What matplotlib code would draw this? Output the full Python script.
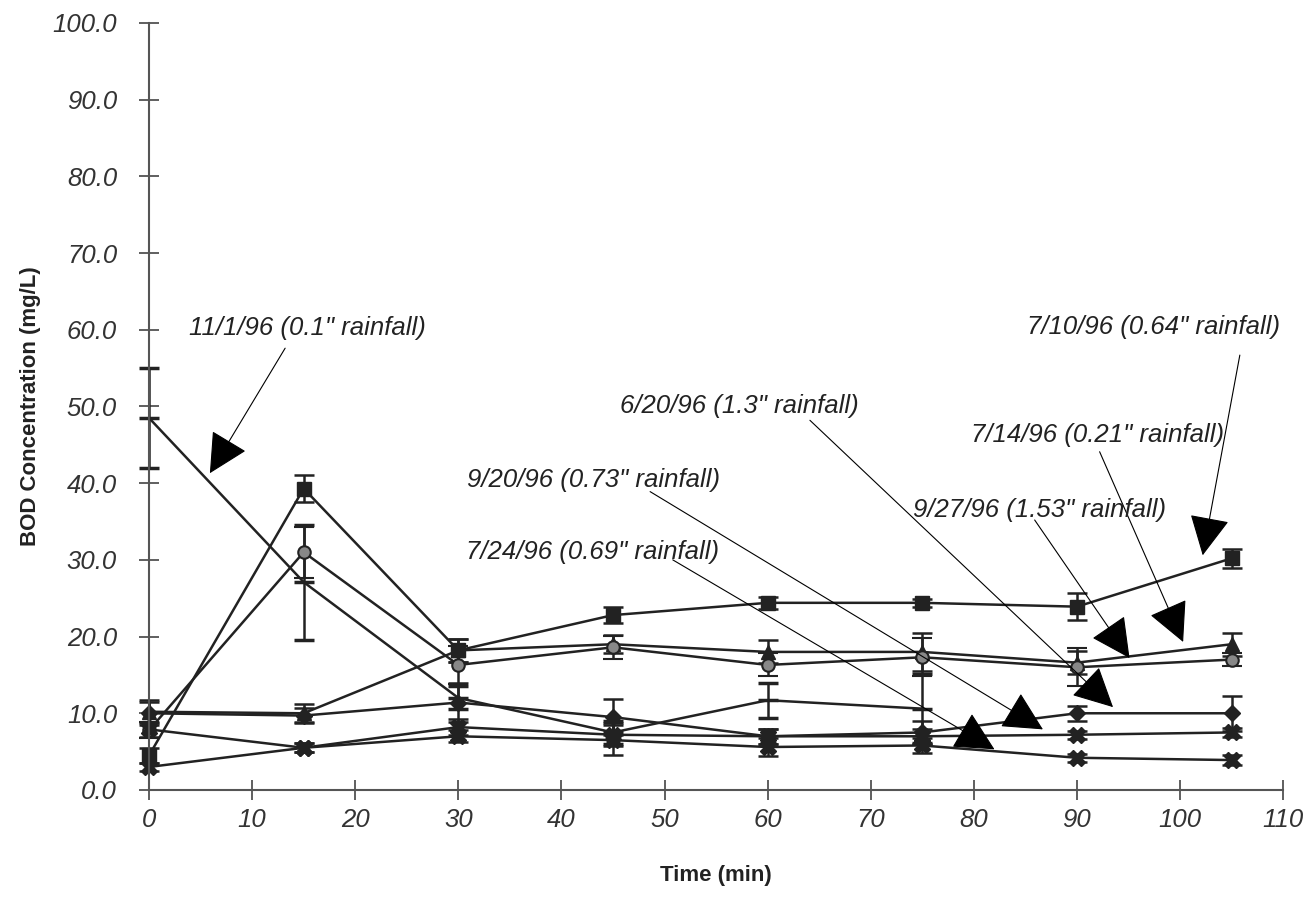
import numpy as np
import matplotlib
matplotlib.use("Agg")
import matplotlib.pyplot as plt

nan = np.nan

# sampling times (min)
time = [0, 15, 30, 45, 60, 75, 90, 105]

# BOD concentration (mg/L) per storm event
nov01 = [48.5, 27.1, 12.0, 7.5, 11.7, 10.6, nan, nan]
jul10 = [4.5, 39.3, 18.2, 22.8, 24.4, 24.4, 23.9, 30.2]
jun20 = [10.0, 9.7, 11.4, 9.5, 7.0, 7.5, 10.0, 10.0]
jul14 = [10.2, 10.0, 18.2, 19.0, 18.0, 18.0, 16.6, 19.0]
sep27 = [7.8, 31.0, 16.3, 18.6, 16.3, 17.3, 16.0, 17.0]
sep20 = [7.9, 5.5, 8.2, 7.2, 7.0, 7.0, 7.2, 7.5]
jul24 = [3.0, 5.5, 7.0, 6.5, 5.6, 5.8, 4.2, 3.9]

# error bar half widths
nov01_err = [6.5, 7.5, 1.5, 1.5, 2.3, 4.5, nan, nan]
jul10_err = [1.0, 1.8, 1.5, 1.0, 0.8, 0.5, 1.8, 1.2]
jun20_err = [1.5, 1.0, 2.5, 2.3, 1.0, 1.5, 1.0, 2.3]
jul14_err = [1.5, 1.2, 1.5, 1.2, 1.5, 2.5, 1.5, 1.5]
sep27_err = [1.0, 3.3, 2.5, 1.5, 1.5, 2.5, 2.5, 0.8]
sep20_err = [1.0, 0.6, 1.0, 1.5, 1.0, 1.0, 0.5, 0.6]
jul24_err = [0.5, 0.6, 0.8, 2.0, 1.2, 1.0, 0.5, 0.6]

labels = ['11/1/96 (0.1" rainfall)', '7/10/96 (0.64" rainfall)',
          '6/20/96 (1.3" rainfall)', '7/14/96 (0.21" rainfall)',
          '9/27/96 (1.53" rainfall)', '9/20/96 (0.73" rainfall)',
          '7/24/96 (0.69" rainfall)']

plt.rcParams['font.family'] = ['Liberation Sans', 'DejaVu Sans']

fig = plt.figure(figsize=(13.12, 8.98), dpi=100)
ax = fig.add_axes([0.1136, 0.1203, 0.8644, 0.8541])

ink = '#222222'
series = [
    (nov01, nov01_err, dict(marker='_', ms=14, mew=2.5)),
    (jul10, jul10_err, dict(marker='s', ms=10)),
    (jun20, jun20_err, dict(marker='D', ms=8)),
    (jul14, jul14_err, dict(marker='^', ms=10)),
    (sep27, sep27_err, dict(marker='o', ms=9, mfc='#888888', mew=1.5)),
    (sep20, sep20_err, dict(marker='X', ms=11)),
    (jul24, jul24_err, dict(marker='X', ms=11)),
]
for vals, err, style in series:
    kw = dict(color=ink, mfc=ink, mec=ink)
    kw.update(style)
    parts = ax.errorbar(time, vals, yerr=err, lw=1.8, elinewidth=1.8, capsize=7,
                        capthick=1.8, ecolor=ink, **kw)
    for artist in parts.get_children():
        artist.set_clip_on(False)

# label text position, arrow start, arrow tip (data units)
notes = [
    ((15.4, 60.2), (13.2, 57.6), (5.9, 41.3)),
    ((97.4, 60.4), (105.8, 56.7), (102.2, 30.6)),
    ((57.3, 50.1), (64.1, 48.2), (93.5, 10.8)),
    ((92.0, 46.3), (92.2, 44.1), (100.3, 19.3)),
    ((86.4, 36.5), (85.9, 35.2), (95.1, 17.2)),
    ((43.1, 40.4), (48.6, 38.9), (86.7, 7.9)),
    ((43.0, 31.0), (50.8, 30.0), (82.0, 5.3)),
]
for text, (tpos, start, tip) in zip(labels, notes):
    ax.text(tpos[0], tpos[1], text, fontsize=18.5, style='italic', color=ink,
            ha='center', va='center')
    ax.annotate('', xy=tip, xytext=start,
                arrowprops=dict(arrowstyle='-|>,head_length=0.75,head_width=0.38',
                                mutation_scale=34, color='black', lw=0.8,
                                shrinkA=0, shrinkB=0))

ax.set_xlim(0, 110)
ax.set_ylim(0, 100)
ax.set_xticks(np.arange(0, 111, 10))
ax.set_yticks(np.arange(0, 101, 10))
ax.set_yticklabels([f'{v:.1f}' for v in np.arange(0, 101, 10)])
for lab in ax.get_xticklabels() + ax.get_yticklabels():
    lab.set_fontstyle('italic')
ax.tick_params(direction='inout', length=14, width=1.2, labelsize=18.5,
               colors='#444444', labelcolor='#333333')
ax.tick_params(axis='y', pad=16)
ax.tick_params(axis='x', pad=6)
ax.spines['top'].set_visible(False)
ax.spines['right'].set_visible(False)
for s in ('left', 'bottom'):
    ax.spines[s].set_color('#555555')
    ax.spines[s].set_linewidth(1.5)

ax.set_xlabel('Time (min)', fontsize=16, fontweight='bold', color=ink, labelpad=24)
ax.set_ylabel('BOD Concentration (mg/L)', fontsize=16, fontweight='bold',
              color=ink, labelpad=8)

fig.savefig('out.png', dpi=100)
